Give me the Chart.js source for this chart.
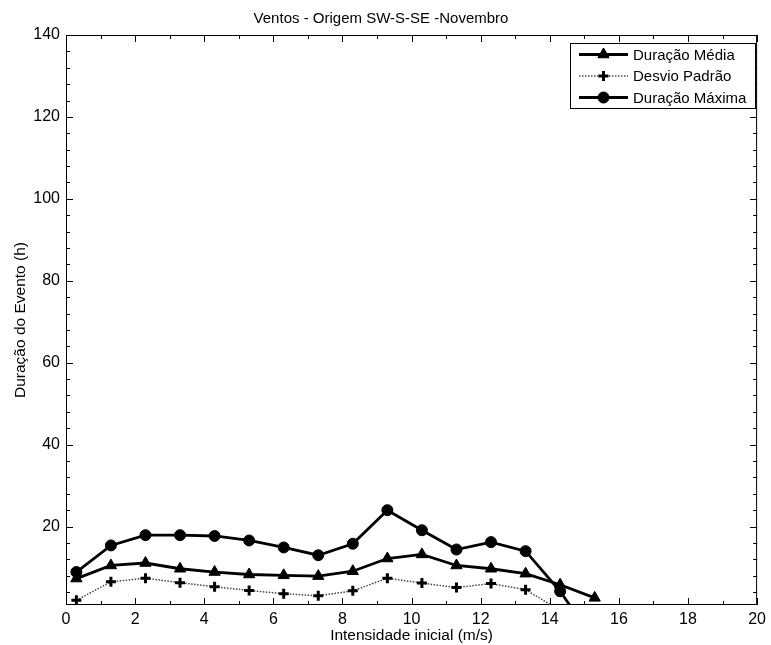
<!DOCTYPE html>
<html>
<head>
<meta charset="utf-8">
<script src="https://cdn.jsdelivr.net/npm/chart.js@4/dist/chart.umd.min.js"></script>
<style>
  html, body { margin: 0; padding: 0; background: #fff; }
  canvas { display: block; }
</style>
</head>
<body>
<canvas id="chart" width="771" height="645"></canvas>
<script>
// Initial wind speed bins (m/s) and event durations (h).
const speeds = [0.3, 1.3, 2.3, 3.3, 4.3, 5.3, 6.3, 7.3, 8.3, 9.3, 10.3, 11.3, 12.3, 13.3, 14.3, 15.3];
const meanDuration = [7.3, 10.5, 11.1, 9.7, 8.9, 8.3, 8.1, 7.9, 9.1, 12.2, 13.2, 10.5, 9.7, 8.5, 5.8, 2.6];
const stdDuration = [2.0, 6.5, 7.4, 6.3, 5.3, 4.4, 3.6, 3.1, 4.3, 7.4, 6.2, 5.1, 6.1, 4.6, -0.5, -0.5];
const maxDuration = [8.9, 15.4, 17.9, 17.9, 17.7, 16.6, 14.9, 13.0, 15.8, 24.0, 19.1, 14.4, 16.2, 14.0, 4.2, -8];

const seriesNames = ["Duração Média", "Desvio Padrão", "Duração Máxima"];

// Axis ticks: labelled ones plus the unlabelled inner marks.
const xTickLabels = [0, 2, 4, 6, 8, 10, 12, 14, 16, 18, 20];
const xMinorTicks = [1, 3, 5, 7, 9, 11, 13, 15, 17, 19];
const yTickLabels = [20, 40, 60, 80, 100, 120, 140];
const yMinorTicks = [4, 8, 12, 16, 24, 28, 32, 36, 44, 48, 52, 56, 64, 68, 72, 76, 84, 88, 92, 96,
  104, 108, 112, 116, 124, 128, 132, 136];

const FONT = "'Liberation Sans', Arial, Helvetica, sans-serif";

const toPoints = (values) => speeds.map((x, i) => ({ x, y: values[i] }));

// MATLAB-style boxed axes: frame plus inward ticks on all four sides.
const axesFrame = {
  id: "axesFrame",
  beforeDatasetsDraw(chart) {
    const { ctx, chartArea: a, scales: { x, y } } = chart;
    ctx.save();
    ctx.strokeStyle = "#000";
    ctx.lineWidth = 1;
    ctx.beginPath();
    ctx.rect(a.left + 0.5, a.top + 0.5, a.right - a.left - 1, a.bottom - a.top - 1);
    const xMark = (v, len) => {
      const px = Math.round(x.getPixelForValue(v)) + 0.5;
      ctx.moveTo(px, a.bottom); ctx.lineTo(px, a.bottom - len);
      ctx.moveTo(px, a.top); ctx.lineTo(px, a.top + len);
    };
    const yMark = (v, len) => {
      const py = Math.round(y.getPixelForValue(v)) + 0.5;
      ctx.moveTo(a.left, py); ctx.lineTo(a.left + len, py);
      ctx.moveTo(a.right, py); ctx.lineTo(a.right - len, py);
    };
    xTickLabels.forEach((v) => xMark(v, 7));
    xMinorTicks.forEach((v) => xMark(v, 4));
    yTickLabels.forEach((v) => yMark(v, 7));
    yMinorTicks.forEach((v) => yMark(v, 4));
    ctx.stroke();
    ctx.restore();
  },
};

// Boxed legend in the upper right corner, drawn like MATLAB's.
const boxLegend = {
  id: "boxLegend",
  afterDraw(chart) {
    const { ctx } = chart;
    const box = { left: 570, top: 43, right: 755, bottom: 108 };
    const rows = [54.5, 76, 97.5];
    ctx.save();
    ctx.fillStyle = "#fff";
    ctx.strokeStyle = "#000";
    ctx.lineWidth = 1;
    ctx.fillRect(box.left, box.top, box.right - box.left, box.bottom - box.top);
    ctx.strokeRect(box.left + 0.5, box.top + 0.5, box.right - box.left, box.bottom - box.top);
    chart.data.datasets.forEach((ds, i) => {
      const yy = rows[i];
      ctx.save();
      ctx.strokeStyle = ds.borderColor;
      ctx.lineWidth = ds.borderWidth;
      ctx.setLineDash(ds.borderDash || []);
      ctx.beginPath();
      ctx.moveTo(579, yy);
      ctx.lineTo(628, yy);
      ctx.stroke();
      ctx.setLineDash([]);
      ctx.fillStyle = ds.pointBackgroundColor;
      ctx.strokeStyle = ds.pointBorderColor;
      ctx.lineWidth = ds.pointBorderWidth;
      Chart.helpers.drawPoint(ctx, {
        pointStyle: ds.pointStyle, radius: ds.pointRadius, rotation: 0, borderWidth: ds.pointBorderWidth,
      }, 603.5, yy);
      ctx.restore();
      ctx.fillStyle = "#000";
      ctx.font = "15px " + FONT;
      ctx.textBaseline = "middle";
      ctx.textAlign = "left";
      ctx.fillText(ds.label, 633, yy + 1);
    });
    ctx.restore();
  },
};

new Chart(document.getElementById("chart"), {
  type: "line",
  data: {
    datasets: [
      {
        label: seriesNames[0],
        data: toPoints(meanDuration),
        borderColor: "#000", borderWidth: 2.8,
        pointStyle: "triangle", pointRadius: 6.5,
        pointBackgroundColor: "#000", pointBorderColor: "#000", pointBorderWidth: 1,
        clip: 0,
      },
      {
        label: seriesNames[1],
        data: toPoints(stdDuration),
        borderColor: "#444", borderWidth: 1.5, borderDash: [1.5, 1.5],
        pointStyle: "cross", pointRadius: 5,
        pointBackgroundColor: "#000", pointBorderColor: "#000", pointBorderWidth: 3,
        clip: 0,
      },
      {
        label: seriesNames[2],
        data: toPoints(maxDuration),
        borderColor: "#000", borderWidth: 2.8,
        pointStyle: "circle", pointRadius: 5.5,
        pointBackgroundColor: "#000", pointBorderColor: "#000", pointBorderWidth: 1,
        clip: 0,
      },
    ],
  },
  options: {
    responsive: false,
    animation: false,
    devicePixelRatio: 1,
    layout: { padding: { right: 9, left: 0, bottom: 0, top: 0 } },
    plugins: {
      legend: { display: false },
      tooltip: { enabled: false },
      title: {
        display: true,
        text: "Ventos - Origem SW-S-SE -Novembro",
        color: "#000",
        font: { family: FONT, size: 15, weight: "normal", lineHeight: 1 },
        padding: { top: 11, bottom: 9 },
      },
    },
    scales: {
      x: {
        type: "linear", min: 0, max: 20,
        grid: { display: false, drawTicks: false },
        border: { display: false },
        afterBuildTicks: (scale) => { scale.ticks = xTickLabels.map((value) => ({ value })); },
        ticks: { color: "#000", padding: 5, maxRotation: 0, font: { family: FONT, size: 16 } },
        title: {
          display: true, text: "Intensidade inicial (m/s)", color: "#000",
          font: { family: FONT, size: 15.5, lineHeight: 1 }, padding: { top: 0, bottom: 2 },
        },
        afterFit: (scale) => { scale.height = 40; },
      },
      y: {
        type: "linear", min: 0.85, max: 140,
        grid: { display: false, drawTicks: false },
        border: { display: false },
        afterBuildTicks: (scale) => { scale.ticks = yTickLabels.map((value) => ({ value })); },
        ticks: { color: "#000", padding: 6, font: { family: FONT, size: 16 } },
        title: {
          display: true, text: "Duração do Evento (h)", color: "#000",
          font: { family: FONT, size: 15.5, lineHeight: 1 }, padding: { top: 13, bottom: 0 },
        },
        afterFit: (scale) => { scale.width = 66; },
      },
    },
  },
  plugins: [axesFrame, boxLegend],
});
</script>
</body>
</html>
